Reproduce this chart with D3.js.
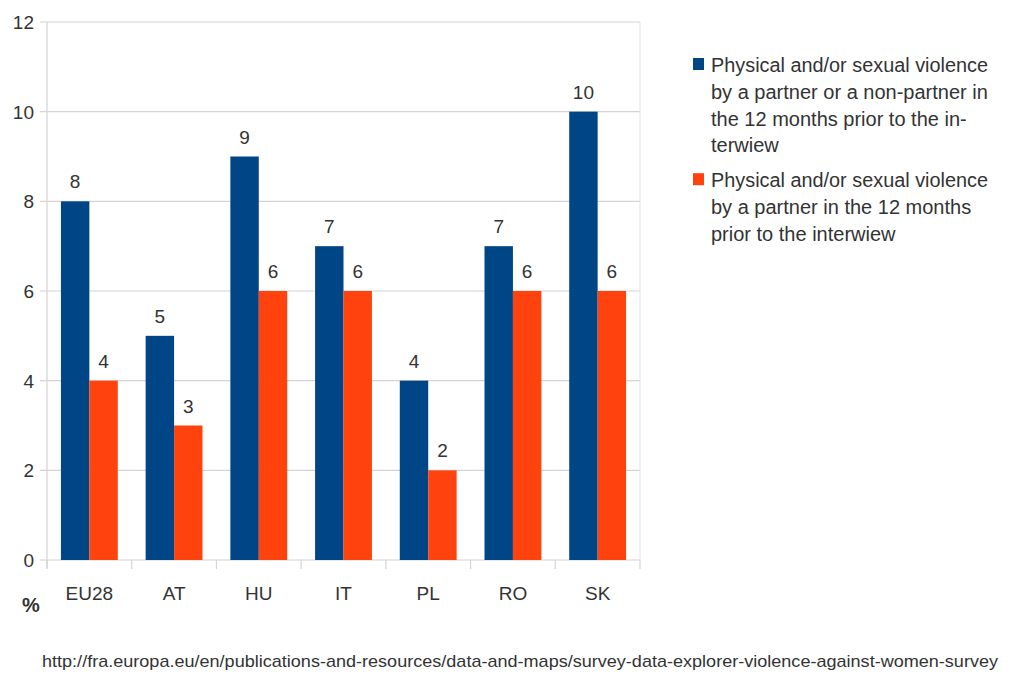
<!DOCTYPE html>
<html><head><meta charset="utf-8">
<script src="https://cdn.jsdelivr.net/npm/d3@7"></script>
<style>body{margin:0;background:#fff}svg{display:block}text{font-family:"Liberation Sans",Arial,sans-serif;fill:#333}</style>
</head><body>
<svg id="c" width="1018" height="686"></svg>
<script>
const categories = ["EU28","AT","HU","IT","PL","RO","SK"];
const seriesNames = ["Physical and/or sexual violence by a partner or a non-partner in the 12 months prior to the interwiew","Physical and/or sexual violence by a partner in the 12 months prior to the interwiew"];
const partnerOrNonPartner = [8,5,9,7,4,7,10];
const partnerOnly = [4,3,6,6,2,6,6];
const yTicks = [0,2,4,6,8,10,12];
const legendLines = [["Physical and/or sexual violence","by a partner or a non-partner in","the 12 months prior to the in-","terwiew"],["Physical and/or sexual violence","by a partner in the 12 months","prior to the interwiew"]];
const sourceText = "http://fra.europa.eu/en/publications-and-resources/data-and-maps/survey-data-explorer-violence-against-women-survey";
const colors = ["#004586","#ff420e"];

const svg = d3.select("#c");
const m = {l:47, r:640, t:22, b:560};
const x = d3.scaleBand().domain(categories).range([m.l, m.r]).paddingInner(0).paddingOuter(0);
const sub = d3.scaleBand().domain([0,1]).range([0, x.bandwidth()]).paddingOuter(0.49).paddingInner(0);
const y = d3.scaleLinear().domain([0,12]).range([m.b, m.t]);

// gridlines
svg.append("g").selectAll("line").data(yTicks).join("line")
  .attr("x1", m.l-7).attr("x2", m.r).attr("y1", d=>y(d)).attr("y2", d=>y(d))
  .attr("stroke", "#d4d4d4").attr("stroke-width", 1.2);
// y labels
svg.append("g").selectAll("text").data(yTicks).join("text")
  .attr("x", 34).attr("y", d=>y(d)).attr("dy","0.36em").attr("text-anchor","end")
  .style("font-size","19px").text(d=>d);
// axis lines
svg.append("line").attr("x1",m.l).attr("x2",m.l).attr("y1",m.t).attr("y2",m.b+8).attr("stroke","#d4d4d4").attr("stroke-width",1.2);
svg.append("line").attr("x1",m.r).attr("x2",m.r).attr("y1",m.t).attr("y2",m.b).attr("stroke","#e2e2e2").attr("stroke-width",1);
// x ticks at band boundaries
const bounds = categories.map(c=>x(c)).concat([m.r]);
svg.append("g").selectAll("line").data(bounds).join("line")
  .attr("x1",d=>d).attr("x2",d=>d).attr("y1",m.b).attr("y2",m.b+9).attr("stroke","#d4d4d4").attr("stroke-width",1.2);

const series = [partnerOrNonPartner, partnerOnly];
series.forEach((vals, si) => {
  const g = svg.append("g");
  g.selectAll("rect").data(categories).join("rect")
    .attr("x", (c)=>x(c)+sub(si)).attr("width", sub.bandwidth())
    .attr("y", (c,i)=>y(vals[i])).attr("height", (c,i)=>y(0)-y(vals[i]))
    .attr("fill", colors[si]);
  g.selectAll("text").data(categories).join("text")
    .attr("x", (c)=>x(c)+sub(si)+sub.bandwidth()/2).attr("y", (c,i)=>y(vals[i])-13)
    .attr("text-anchor","middle").style("font-size","19px").text((c,i)=>vals[i]);
});
// x labels
svg.append("g").selectAll("text").data(categories).join("text")
  .attr("x", c=>x(c)+x.bandwidth()/2).attr("y", 600).attr("text-anchor","middle")
  .style("font-size","19px").text(c=>c);
svg.append("text").attr("x",22).attr("y",612).style("font-size","20px").style("font-weight","bold").text("%");

// legend
const leg = svg.append("g");
let ly = 58;
legendLines.forEach((lines, i) => {
  leg.append("rect").attr("x",693).attr("y",ly).attr("width",11).attr("height",12).attr("fill",colors[i]);
  lines.forEach((t, j) => {
    leg.append("text").attr("x",711).attr("y",ly+14+j*26.8).style("font-size","20px")
      .attr("textLength", j===0 ? 277 : null).attr("lengthAdjust","spacingAndGlyphs").text(t);
  });
  ly += lines.length*26.8 + 8;
});

// source
svg.append("text").attr("x",42).attr("y",667).style("font-size","17px")
  .attr("textLength",956).attr("lengthAdjust","spacingAndGlyphs").text(sourceText);
</script>
</body></html>
